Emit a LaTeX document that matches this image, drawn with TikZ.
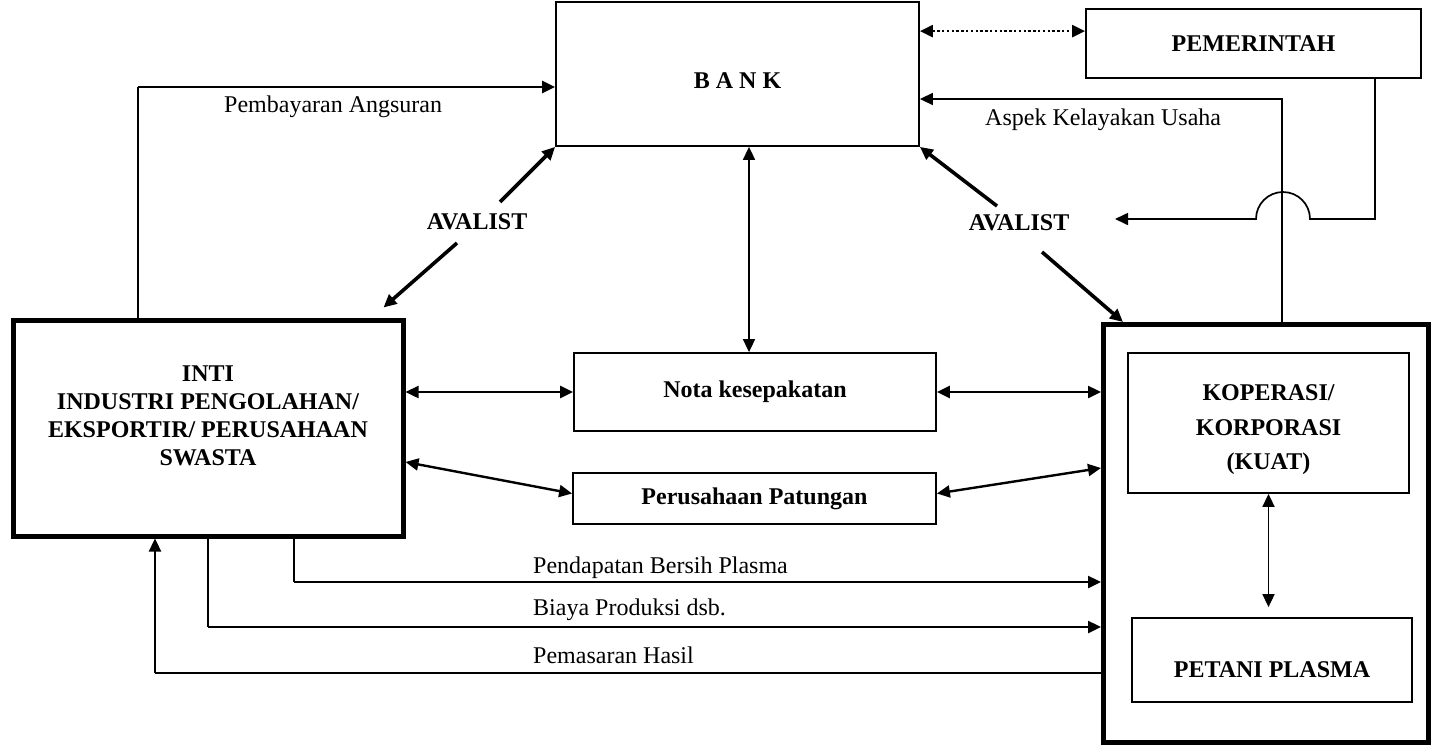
\documentclass[tikz,border=0pt]{standalone}
\usepackage{fontspec}
\setmainfont{Liberation Serif}
\usetikzlibrary{arrows.meta}

\begin{document}
\begin{tikzpicture}[x=1pt, y=-1pt, >={Triangle[length=13pt,width=12pt]},
                    font=\fontsize{24}{28}\selectfont,
                    boldtext/.style={font=\bfseries\fontsize{24}{28}\selectfont, align=center},
                    box/.style={draw, line width=1.8pt, inner sep=0pt, boldtext},
                    bigbox/.style={box, line width=5pt},
                    link/.style={line width=2.4pt},
                    thinlink/.style={line width=1.7pt},
                    avalink/.style={line width=3.6pt},
                    lbl/.style={anchor=base west, inner sep=0pt}]
        \useasboundingbox (0,0) rectangle (1431,745);
        % boxes
        \node[box, minimum width=363, minimum height=144, label={[boldtext, yshift=-7pt]center:B A N K}] (bank) at (737.5,74) {};
        \node[box, minimum width=335, minimum height=69] (pem) at (1253.5,43.5) {PEMERINTAH};
        \node[bigbox, minimum width=390, minimum height=216, label={[boldtext, yshift=12pt]center:{INTI\\INDUSTRI PENGOLAHAN/\\EKSPORTIR/ PERUSAHAAN\\SWASTA}}] (inti) at (208,428) {};
        \node[box, minimum width=362, minimum height=78] (nota) at (755,392) {Nota kesepakatan};
        \node[box, minimum width=363, minimum height=51] (patungan) at (754.5,498.5) {Perusahaan Patungan};
        \node[bigbox, minimum width=325, minimum height=418] (kuat) at (1266,533.5) {};
        \node[box, minimum width=281, minimum height=140, label={[boldtext, font=\bfseries\fontsize{24}{34.5}\selectfont, yshift=-7pt]center:{KOPERASI/\\KORPORASI\\(KUAT)}}] (kop) at (1268.5,423) {};
        \node[box, minimum width=280, minimum height=84, label={[boldtext, yshift=-9.5pt]center:PETANI PLASMA}] (petani) at (1272,660) {};
        % bends and free ends
        \coordinate (aspekbend) at (1282,99);
        \coordinate (paybend) at (138,87);
        \coordinate (pembend) at (1375,219);
        \coordinate (hopR) at (1310,219);
        \coordinate (avtipR) at (1115,219);
        \coordinate (pdbend) at (294,582);
        \coordinate (bybend) at (208,627);
        \coordinate (pmbend) at (155,673);
        \coordinate (avLup) at (500,202);
        \coordinate (avLdown) at (457,243);
        \coordinate (avRup) at (997,206);
        \coordinate (avRdown) at (1042,252);
        % labels
        \node[lbl] (paytext) at (224,112) {Pembayaran Angsuran};
        \node[lbl] (aspektext) at (985,125) {Aspek Kelayakan Usaha};
        \node[lbl] (pdtext) at (533,573) {Pendapatan Bersih Plasma};
        \node[lbl] (bytext) at (533,615) {Biaya Produksi dsb.};
        \node[lbl] (pmtext) at (533,663) {Pemasaran Hasil};
        \node[boldtext] (avL) at (477,222) {AVALIST};
        \node[boldtext] (avR) at (1019,223) {AVALIST};
        % connectors
        \draw[line width=2.4pt, dash pattern=on 2.4pt off 2.4pt, <->] ([yshift=-30pt]bank.north east) -- ([yshift=-23pt]pem.north west);
        \draw[thinlink, ->] (kuat.north -| aspekbend) -- (aspekbend) -- (bank.east |- aspekbend);
        \draw[thinlink, ->] (pem.south -| pembend) -- (pembend) -- (hopR) arc[start angle=0, end angle=180, radius=27pt] -- (avtipR);
        \draw[thinlink] (inti.north -| paybend) -- (paybend);
        \draw[link, ->] (paybend) -- (bank.west |- paybend);
        \draw[avalink, ->] (avLup) -- (bank.south west);
        \draw[avalink, ->] (avLdown) -- ([xshift=-22pt,yshift=10pt]inti.north east);
        \draw[avalink, ->] (avRup) -- (bank.south east);
        \draw[avalink, ->] (avRdown) -- ([xshift=22pt]kuat.north west);
        \draw[thinlink, <->] ([xshift=-6pt]nota.north |- bank.south) -- ([xshift=-6pt]nota.north);
        \draw[link, <->] (inti.east |- nota.west) -- (nota.west);
        \draw[link, <->] (nota.east) -- (kuat.west |- nota.east);
        \draw[link, <->] ([yshift=-34pt]inti.east) -- ([yshift=5pt]patungan.west);
        \draw[link, <->] ([yshift=5pt]patungan.east) -- (kuat.west |- 0,468);
        \draw[thinlink, <->] (kop.south) -- ([yshift=10pt]kop.south |- petani.north);
        \draw[thinlink] (inti.south -| pdbend) -- (pdbend);
        \draw[link, ->] (pdbend) -- (kuat.west |- pdbend);
        \draw[thinlink] (inti.south -| bybend) -- (bybend);
        \draw[link, ->] (bybend) -- (kuat.west |- bybend);
        \draw[thinlink] (kuat.west |- pmbend) -- (pmbend);
        \draw[link, ->] (pmbend) -- (inti.south -| pmbend);
    \end{tikzpicture}
\end{document}
